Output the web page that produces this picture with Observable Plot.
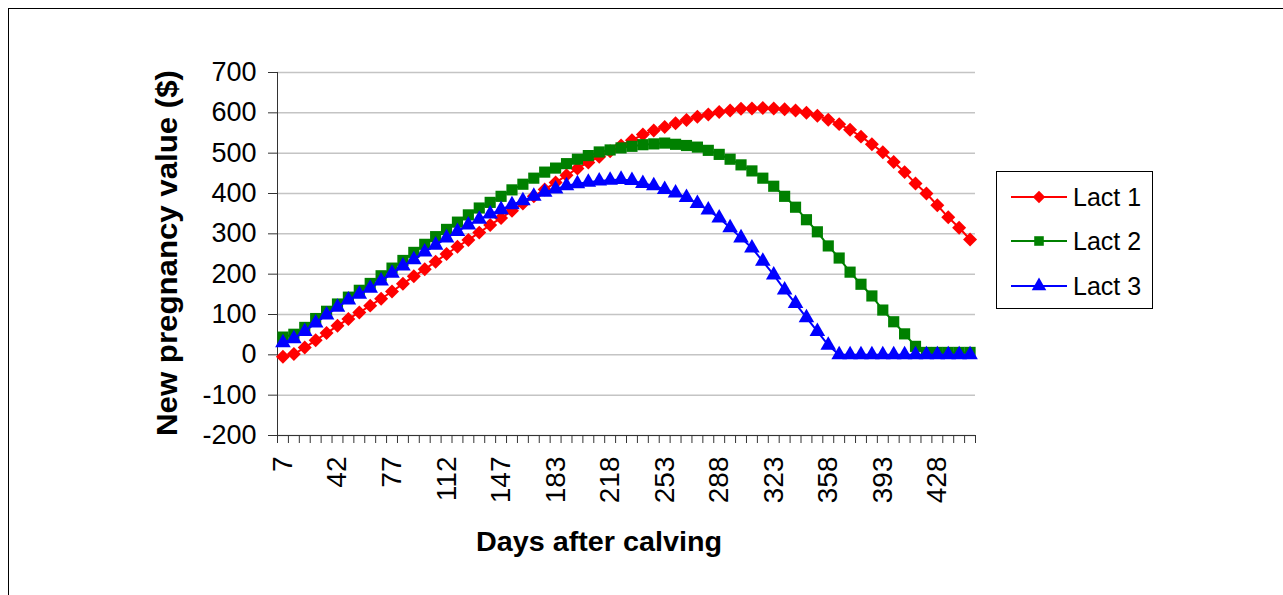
<!DOCTYPE html>
<html><head><meta charset="utf-8">
<script src="https://cdn.jsdelivr.net/npm/d3@7"></script>
<script src="https://cdn.jsdelivr.net/npm/@observablehq/plot@0.6"></script>
<style>
html,body{margin:0;padding:0;width:1283px;height:595px;overflow:hidden;background:#fff;font-family:"Liberation Sans",Arial,sans-serif;}
#frame{position:absolute;left:8px;top:8px;width:1300px;height:620px;border:1px solid #000;box-sizing:border-box;}
#chart{position:absolute;left:0;top:0;}
#legend{position:absolute;left:996px;top:171px;width:157px;height:138px;border:1px solid #000;box-sizing:border-box;background:#fff;}
</style></head>
<body>
<div id="frame"></div>
<div id="chart"></div>
<div id="legend"></div>
<script>
// ---- data ----
const days = [7,14,21,28,35,42,49,56,63,70,77,84,91,98,105,112,119,126,133,140,147,154,161,168,175,183,190,197,204,211,218,225,232,239,246,253,260,267,274,281,288,295,302,309,316,323,330,337,344,351,358,365,372,379,386,393,400,407,414,421,428,435,442,449];
const lact1 = [-5,2,18,36,54,72,89,105,122,139,157,176,195,212,231,250,268,285,303,322,339,357,375,393,410,427,445,462,477,491,505,519,532,546,556,565,574,582,590,596,602,606,610,611,612,611,609,606,600,593,583,572,558,541,522,502,478,453,425,400,371,341,315,286];
const lact2 = [44,51,68,90,108,126,143,160,177,196,215,234,254,274,293,311,329,347,364,378,393,409,423,438,453,463,474,485,494,503,508,513,517,521,523,525,522,519,515,507,497,485,471,456,438,418,393,366,335,305,270,240,205,175,146,111,82,52,21,6,6,6,6,6];
const lact3 = [30,40,58,79,99,118,136,150,165,183,202,220,236,255,272,290,306,322,336,349,360,372,382,393,403,411,419,424,428,431,433,435,432,425,419,410,401,390,375,359,339,315,290,265,232,198,161,127,92,58,24,0,0,0,0,0,0,0,0,0,0,0,0,0];
const seriesNames = ["Lact 1","Lact 2","Lact 3"];
const seriesColors = ["#ff0000","#008000","#0000ff"];
const seriesSymbols = ["diamond2","square","triangle"];
const seriesR = [6.3, 6.3, 5.8];
const legendR = [5.6, 5.4, 5.4];
const yTicks = [-200,-100,0,100,200,300,400,500,600,700];
const xTitle = "Days after calving";
const yTitle = "New pregnancy value ($)";

// ---- build ----
const allSeries = [lact1, lact2, lact3];
const rows = [];
allSeries.forEach((vals, s) => vals.forEach((v, i) => rows.push({i, day: days[i], value: v, series: seriesNames[s]})));
const bounds = d3.range(-0.5, days.length, 1);
const labelIdx = days.map((d, i) => i).filter(i => i % 5 === 0);

const marks = [
  Plot.gridY(yTicks, {stroke: "#c4c4c4", strokeOpacity: 1, strokeWidth: 1.5}),
  Plot.ruleX([-0.5], {stroke: "#333"}),
  Plot.ruleY([-200], {stroke: "#333"}),
  Plot.axisY(yTicks, {tickSize: 9, tickPadding: 12, label: null, fontSize: 27, stroke: "#333", tickFormat: d => String(d)}),
  Plot.axisX(bounds, {tickSize: 8, tickFormat: () => "", label: null, stroke: "#333"}),
  Plot.axisX(labelIdx, {tickSize: 0, tickRotate: -90, tickPadding: 21, tickFormat: i => String(days[i]), label: null, fontSize: 28})
];
seriesNames.forEach((name, s) => {
  const data = rows.filter(d => d.series === name);
  marks.push(Plot.line(data, {x: "i", y: "value", stroke: seriesColors[s], strokeWidth: 2}));
  marks.push(Plot.dot(data, {x: "i", y: "value", symbol: seriesSymbols[s], fill: seriesColors[s], r: seriesR[s], stroke: "none"}));
});

const chart = Plot.plot({
  width: 1283, height: 595,
  marginLeft: 277, marginRight: 308, marginTop: 72, marginBottom: 160,
  x: {type: "linear", domain: [-0.5, days.length - 0.5], axis: null},
  y: {domain: [-200, 700], axis: null},
  style: {fontFamily: "'Liberation Sans', Arial, sans-serif", fontSize: "26px", color: "#000", background: "transparent", overflow: "visible"},
  marks
});
document.getElementById("chart").appendChild(chart);

const svg = d3.select(chart);
svg.append("text").attr("x", 599).attr("y", 551).attr("text-anchor", "middle")
  .attr("font-weight", "bold").attr("font-size", 28).attr("fill", "#000")
  .attr("textLength", 246).attr("lengthAdjust", "spacingAndGlyphs").text(xTitle);
svg.append("text").attr("transform", "translate(177,253) rotate(-90)").attr("text-anchor", "middle")
  .attr("font-weight", "bold").attr("font-size", 30).attr("fill", "#000")
  .attr("textLength", 366).attr("lengthAdjust", "spacingAndGlyphs").text(yTitle);

// ---- legend ----
const leg = d3.select("#legend").append("svg").attr("width", 155).attr("height", 136)
  .style("font-family", "'Liberation Sans', Arial, sans-serif");
const symTypes = {diamond2: d3.symbolDiamond2, square: d3.symbolSquare, triangle: d3.symbolTriangle};
const legY = [25, 69, 114];
seriesNames.forEach((name, s) => {
  const g = leg.append("g").attr("transform", `translate(0,${legY[s]})`);
  g.append("line").attr("x1", 14).attr("x2", 70).attr("y1", 0).attr("y2", 0).attr("stroke", seriesColors[s]).attr("stroke-width", 2);
  g.append("path").attr("transform", "translate(42,0)")
    .attr("d", d3.symbol(symTypes[seriesSymbols[s]], Math.PI * legendR[s] * legendR[s])())
    .attr("fill", seriesColors[s]);
  g.append("text").attr("x", 76).attr("y", 0).attr("dy", "0.35em").attr("font-size", 25).attr("fill", "#000").text(name);
});
</script>
</body></html>
